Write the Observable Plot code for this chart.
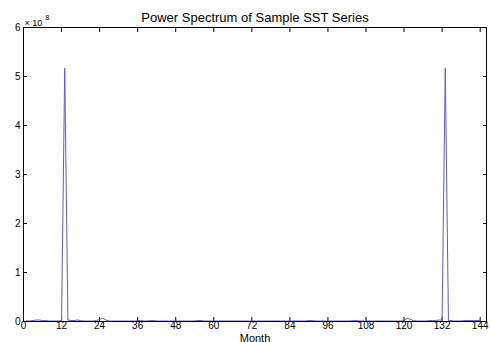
<!DOCTYPE html>
<html>
<head>
<meta charset="utf-8">
<script src="https://cdn.jsdelivr.net/npm/d3@7"></script>
<script src="https://cdn.jsdelivr.net/npm/@observablehq/plot@0.6"></script>
<style>
  html, body { margin: 0; padding: 0; background: #fff; }
  svg { display: block; }
</style>
</head>
<body>
<div id="chart"></div>
<script>
// Power (in units of 1e8) at months 0..144
const months = d3.range(0, 145);
const power = [
  0.00, 0.01, 0.01, 0.02, 0.03, 0.03, 0.02, 0.02, 0.01, 0.01, 0.01, 0.01,
  0.02, 5.17, 0.03, 0.02, 0.02, 0.03, 0.02, 0.01, 0.01, 0.01, 0.01, 0.02,
  0.04, 0.07, 0.03, 0.01, 0.01, 0.01, 0.01, 0.01, 0.01, 0.01, 0.01, 0.01,
  0.02, 0.02, 0.01, 0.01, 0.02, 0.02, 0.01, 0.01, 0.01, 0.01, 0.01, 0.01,
  0.01, 0.01, 0.01, 0.01, 0.01, 0.01, 0.01, 0.02, 0.02, 0.01, 0.01, 0.01,
  0.01, 0.01, 0.01, 0.01, 0.01, 0.01, 0.01, 0.01, 0.01, 0.01, 0.01, 0.01,
  0.01, 0.01, 0.01, 0.01, 0.01, 0.01, 0.01, 0.01, 0.01, 0.01, 0.01, 0.01,
  0.01, 0.01, 0.01, 0.01, 0.01, 0.01, 0.02, 0.02, 0.01, 0.01, 0.01, 0.01,
  0.01, 0.01, 0.01, 0.01, 0.01, 0.01, 0.01, 0.01, 0.02, 0.02, 0.01, 0.01,
  0.01, 0.01, 0.01, 0.01, 0.01, 0.01, 0.01, 0.01, 0.01, 0.01, 0.01, 0.01,
  0.02, 0.07, 0.04, 0.02, 0.01, 0.01, 0.01, 0.01, 0.02, 0.02, 0.02, 0.03,
  0.03, 5.17, 0.02, 0.02, 0.01, 0.01, 0.01, 0.02, 0.02, 0.02, 0.02, 0.02,
  0.02
];
const xTicks = [0, 12, 24, 36, 48, 60, 72, 84, 96, 108, 120, 132, 144];
const yTicks = [0, 1, 2, 3, 4, 5, 6];
const title = "Power Spectrum of Sample SST Series";
const xLabel = "Month";

const data = months.map((m, i) => ({month: m, power: power[i]}));
const lineColor = "#5c5cc8";
const font = "Liberation Sans, Arial, sans-serif";

const chart = Plot.plot({
  width: 492,
  height: 342,
  marginLeft: 23,
  marginRight: 6,
  marginTop: 27,
  marginBottom: 21,
  style: {fontFamily: font, fontSize: "10px", color: "#000", background: "#fff"},
  x: {domain: [0, 146], label: null},
  y: {domain: [0, 6], label: null},
  marks: [
    Plot.axisX({anchor: "bottom", ticks: xTicks, tickSize: -4, tickPadding: 4, tickFormat: "d", fontSize: 10, label: null}),
    Plot.axisX({anchor: "top", ticks: xTicks, tickSize: -4, tickFormat: () => "", label: null}),
    Plot.axisY({anchor: "left", ticks: yTicks, tickSize: -4, tickPadding: 7, tickFormat: "d", fontSize: 10, label: null}),
    Plot.axisY({anchor: "right", ticks: yTicks, tickSize: -4, tickFormat: () => "", label: null}),
    Plot.line(data, {x: "month", y: "power", stroke: lineColor, strokeWidth: 1}),
    Plot.frame({stroke: "#000", strokeWidth: 1}),
    Plot.text([title], {frameAnchor: "top", dy: -15, fontSize: 13, fill: "#000", fontFamily: font}),
    Plot.text([xLabel], {frameAnchor: "bottom", dy: 20, lineAnchor: "bottom", fontSize: 11, fill: "#000", fontFamily: font}),
    Plot.text(["× 10"], {frameAnchor: "top-left", dx: 1, dy: -8, fontSize: 9, textAnchor: "start", fill: "#000", fontFamily: font}),
    Plot.text(["8"], {frameAnchor: "top-left", dx: 22, dy: -12, fontSize: 7, textAnchor: "start", fill: "#000", fontFamily: font})
  ]
});
document.getElementById("chart").appendChild(chart);
</script>
</body>
</html>
